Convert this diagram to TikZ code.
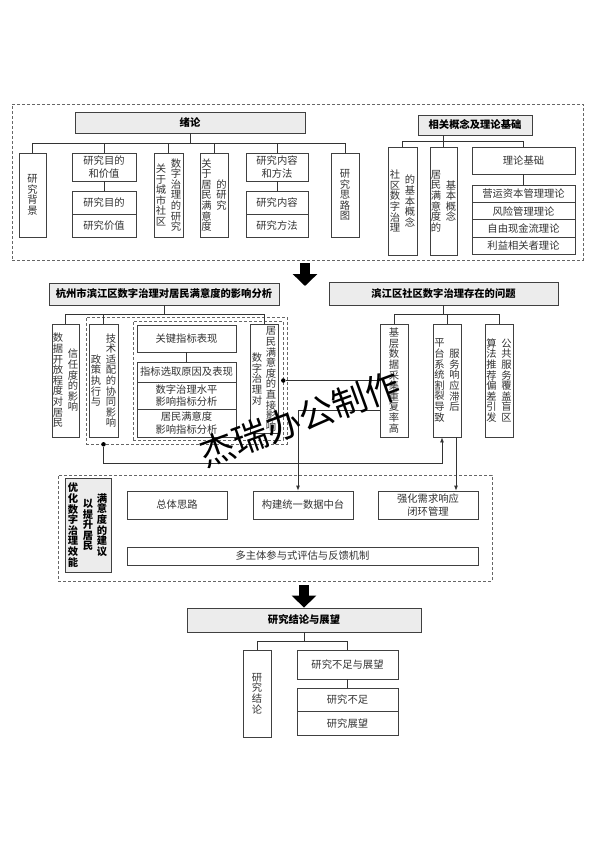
\documentclass[tikz,border=0pt]{standalone}
\usepackage{fontspec}
\setmainfont{Noto Sans CJK SC}
\usetikzlibrary{arrows.meta}
\XeTeXlinebreaklocale "zh"
\XeTeXlinebreakskip=0pt plus 1pt

\newcommand{\boxfont}{\fontsize{10.3}{12.5}\selectfont}
\newcommand{\colfont}{\fontsize{10.3}{10.6}\selectfont}
\newcommand{\headfont}{\bfseries\fontsize{10.3}{10.6}\selectfont}
\newcommand{\wmarkfont}{\fontsize{35}{35}\selectfont}

\tikzset{
  box/.style={draw=black!75, line width=0.8pt, fill=white, inner sep=0pt, align=center, font=\boxfont, text=black!80},
  headbox/.style={box, fill=gray!15, font=\headfont, text=black},
  vtext/.style={text width=10.4pt, align=center, inner sep=0pt, font=\colfont, text=black!80},
  vbox/.style={box, vtext, minimum width=28},
  frame/.style={draw=black!60, densely dashed, line width=0.6pt, inner sep=0pt},
  link/.style={draw=black!80, line width=0.8pt},
  tip/.style={-{Latex[length=5pt,width=4pt]}},
  dot/.style={circle, fill=black, inner sep=0pt, minimum size=4.5pt},
  bigarrow/.style={line width=10pt, -{Triangle[length=12pt,width=24pt]}}
}

\begin{document}
\begin{tikzpicture}[x=1pt, y=-1pt]
\useasboundingbox (0,0) rectangle (594,841);

\node[frame, minimum width=571, minimum height=156] (top) at (297.5,182) {};

\node[headbox, minimum width=230, minimum height=21] (xulun) at (190,122.5) {绪论};
\node[vbox, minimum width=27, minimum height=84] (beijing) at (32.5,195) {研究背景};
\node[box, minimum width=64, minimum height=28] (mudi) at (104,167) {研究目的\\和价值};
\node[box, minimum width=64, minimum height=23] (mudia) at (104,202.5) {研究目的};
\node[box, minimum width=64, minimum height=23] (mudib) at (104,225.5) {研究价值};
\node[box, minimum width=29, minimum height=84] (chengshi) at (168.5,195) {};
\node[vtext] (chengshil) at ([xshift=-7.5pt]chengshi.center) {关于城市社区};
\node[vtext] (chengshir) at ([xshift=7.5pt]chengshi.center) {数字治理的研究};
\node[box, minimum width=28, minimum height=84] (jumin) at (214,195) {};
\node[vtext] (juminl) at ([xshift=-7.5pt]jumin.center) {关于居民满意度};
\node[vtext] (juminr) at ([xshift=7.5pt]jumin.center) {的研究};
\node[box, minimum width=62, minimum height=28] (neirong) at (277,167) {研究内容\\和方法};
\node[box, minimum width=62, minimum height=23] (neironga) at (277,202.5) {研究内容};
\node[box, minimum width=62, minimum height=23] (neirongb) at (277,225.5) {研究方法};
\node[vbox, minimum width=28, minimum height=84] (silu) at (345,195) {研究思路图};

\node[headbox, minimum width=114, minimum height=20] (gainian) at (475,125) {相关概念及理论基础};
\node[box, minimum width=29, minimum height=108] (shequ) at (402.5,201) {};
\node[vtext] (shequl) at ([xshift=-7.5pt]shequ.center) {社区数字治理};
\node[vtext] (shequr) at ([xshift=7.5pt]shequ.center) {的基本概念};
\node[box, minimum width=27, minimum height=108] (jmgn) at (443.5,201) {};
\node[vtext] (jmgnl) at ([xshift=-7.5pt]jmgn.center) {居民满意度的};
\node[vtext] (jmgnr) at ([xshift=7.5pt]jmgn.center) {基本概念};
\node[box, minimum width=103, minimum height=27] (lilun) at (523.5,160.5) {理论基础};
\node[box, minimum width=103, minimum height=17.25] (liluna) at (523.5,194) {营运资本管理理论};
\node[box, minimum width=103, minimum height=17.25] (lilunb) at (523.5,211.25) {风险管理理论};
\node[box, minimum width=103, minimum height=17.25] (lilunc) at (523.5,228.5) {自由现金流理论};
\node[box, minimum width=103, minimum height=17.25] (lilund) at (523.5,245.75) {利益相关者理论};

\coordinate (xbus) at (0,143);
\draw[link] (xulun.south) -- (xbus -| xulun.south);
\draw[link] (beijing.north) |- (xbus -| silu.north) -- (silu.north);
\draw[link] (mudi.north) -- (xbus -| mudi.north);
\draw[link] (chengshi.north) -- (xbus -| chengshi.north);
\draw[link] (jumin.north) -- (xbus -| jumin.north);
\draw[link] (neirong.north) -- (xbus -| neirong.north);
\draw[link] (mudi.south) -- (mudia.north);
\draw[link] (neirong.south) -- (neironga.north);

\coordinate (gbus) at (0,141);
\draw[link] (gainian.south -| jmgn.north) -- (jmgn.north);
\draw[link] (shequ.north) |- (gbus -| lilun.north) -- (lilun.north);
\draw[link] (lilun.south) -- (liluna.north);

\coordinate (arr1) at (305,286);
\draw[bigarrow] ([yshift=-3pt]top.south -| arr1) -- (arr1);

\node[frame, minimum width=201, minimum height=127] (outer) at (186.5,380.5) {};
\node[frame, minimum width=150, minimum height=119] (inner) at (208,380.5) {};

\node[headbox, minimum width=230, minimum height=22] (analysis) at (164,294) {杭州市滨江区数字治理对居民满意度的影响分析};
\node[box, minimum width=27, minimum height=113] (shuju) at (65.5,380.5) {};
\node[vtext] (shujul) at ([xshift=-7.5pt]shuju.center) {数据开放程度对居民};
\node[vtext] (shujur) at ([xshift=7.5pt]shuju.center) {信任度的影响};
\node[box, minimum width=29, minimum height=113] (jishu) at (103.5,380.5) {};
\node[vtext] (jishul) at ([xshift=-7.5pt]jishu.center) {政策执行与};
\node[vtext] (jishur) at ([xshift=7.5pt]jishu.center) {技术适配的协同影响};
\node[box, minimum width=99, minimum height=27] (guanjian) at (186.5,338.5) {关键指标表现};
\node[box, minimum width=99, minimum height=20] (zhibiaoa) at (186.5,372) {指标选取原因及表现};
\node[box, minimum width=99, minimum height=27] (zhibiaob) at (186.5,395.5) {数字治理水平\\影响指标分析};
\node[box, minimum width=99, minimum height=28] (zhibiaoc) at (186.5,423) {居民满意度\\影响指标分析};
\node[box, minimum width=28, minimum height=109] (zhijie) at (264,379) {};
\node[vtext] (zhijiel) at ([xshift=-7pt]zhijie.center) {数字治理对};
\node[vtext] (zhijier) at ([xshift=7pt]zhijie.center) {居民满意度的直接影响};

\coordinate (abus) at (0,314);
\draw[link] (analysis.south) -- (abus -| analysis.south);
\draw[link] (shuju.north) |- (abus -| zhijie.north) -- (zhijie.north);
\draw[link] (jishu.north) -- (abus -| jishu.north);
\draw[link] (guanjian.south) -- (zhibiaoa.north);

\node[headbox, minimum width=229, minimum height=23] (wenti) at (443.5,293.5) {滨江区社区数字治理存在的问题};
\node[vbox, minimum width=28, minimum height=113] (jiceng) at (394,380.5) {基层数据采集重复率高};
\node[box, minimum width=28, minimum height=113] (pingtai) at (447,380.5) {};
\node[vtext] (pingtail) at ([xshift=-7.5pt]pingtai.center) {平台系统割裂导致};
\node[vtext] (pingtair) at ([xshift=7.5pt]pingtai.center) {服务响应滞后};
\node[box, minimum width=28, minimum height=113] (gonggong) at (499,380.5) {};
\node[vtext] (gonggongl) at ([xshift=-7.5pt]gonggong.center) {算法推荐偏差引发};
\node[vtext] (gonggongr) at ([xshift=7.5pt]gonggong.center) {公共服务覆盖盲区};

\coordinate (wbus) at (0,314);
\draw[link] (wenti.south) -- (wbus -| wenti.south);
\draw[link] (jiceng.north) |- (wbus -| gonggong.north) -- (gonggong.north);
\draw[link] (pingtai.north) -- (wbus -| pingtai.north);

\node[frame, minimum width=434, minimum height=106] (opt) at (275,528) {};
\node[headbox, minimum width=46, minimum height=94] (youhua) at (88,525) {};
\node[vtext, font=\headfont, text=black] (youhual) at ([xshift=-15pt]youhua.center) {优化数字治理效能};
\node[vtext, font=\headfont, text=black] (youhuam) at (youhua.center) {以提升居民};
\node[vtext, font=\headfont, text=black] (youhuar) at ([xshift=14pt]youhua.center) {满意度的建议};
\node[box, minimum width=100, minimum height=28] (zongti) at (177,505) {总体思路};
\node[box, minimum width=100, minimum height=28] (tongyi) at (303,505) {构建统一数据中台};
\node[box, minimum width=100, minimum height=28] (qianghua) at (428,505) {强化需求响应\\闭环管理};
\node[box, minimum width=351, minimum height=18] (duozhuti) at (302.5,556) {多主体参与式评估与反馈机制};

\node[dot] (d1) at (outer.south -| jishu.south) {};
\node[dot] (d2) at (inner.east) {};
\draw[link] (d2) -- (d2 -| jiceng.west);
\draw[link, tip] ([yshift=-29.5pt]jiceng.west) -| ([xshift=-5pt]tongyi.north);
\draw[link, tip] (d1) -- ++(0,19) -| ([xshift=-5pt]pingtai.south);
\draw[link, tip] ([xshift=9pt]pingtai.south) -- ([xshift=9pt]pingtai.south |- qianghua.north);

\node[headbox, minimum width=234, minimum height=24] (jielun) at (304,620) {研究结论与展望};
\draw[bigarrow] ([yshift=-4pt]opt.south -| jielun.north) -- (jielun.north);
\node[vbox, minimum width=28, minimum height=87] (yjjl) at (257,693.5) {研究结论};
\node[box, minimum width=101, minimum height=29] (buzu) at (347.5,664.5) {研究不足与展望};
\node[box, minimum width=101, minimum height=23.5] (buzua) at (347.5,699.75) {研究不足};
\node[box, minimum width=101, minimum height=23.5] (buzub) at (347.5,723.25) {研究展望};

\coordinate (jbus) at (0,641);
\draw[link] (jielun.south) -- (jbus -| jielun.south);
\draw[link] (yjjl.north) |- (jbus -| buzu.north) -- (buzu.north);
\draw[link] (buzu.south) -- (buzua.north);

\node[font=\wmarkfont, rotate=20, text=black] (wmark) at (300,419) {杰瑞办公制作};

\end{tikzpicture}
\end{document}
